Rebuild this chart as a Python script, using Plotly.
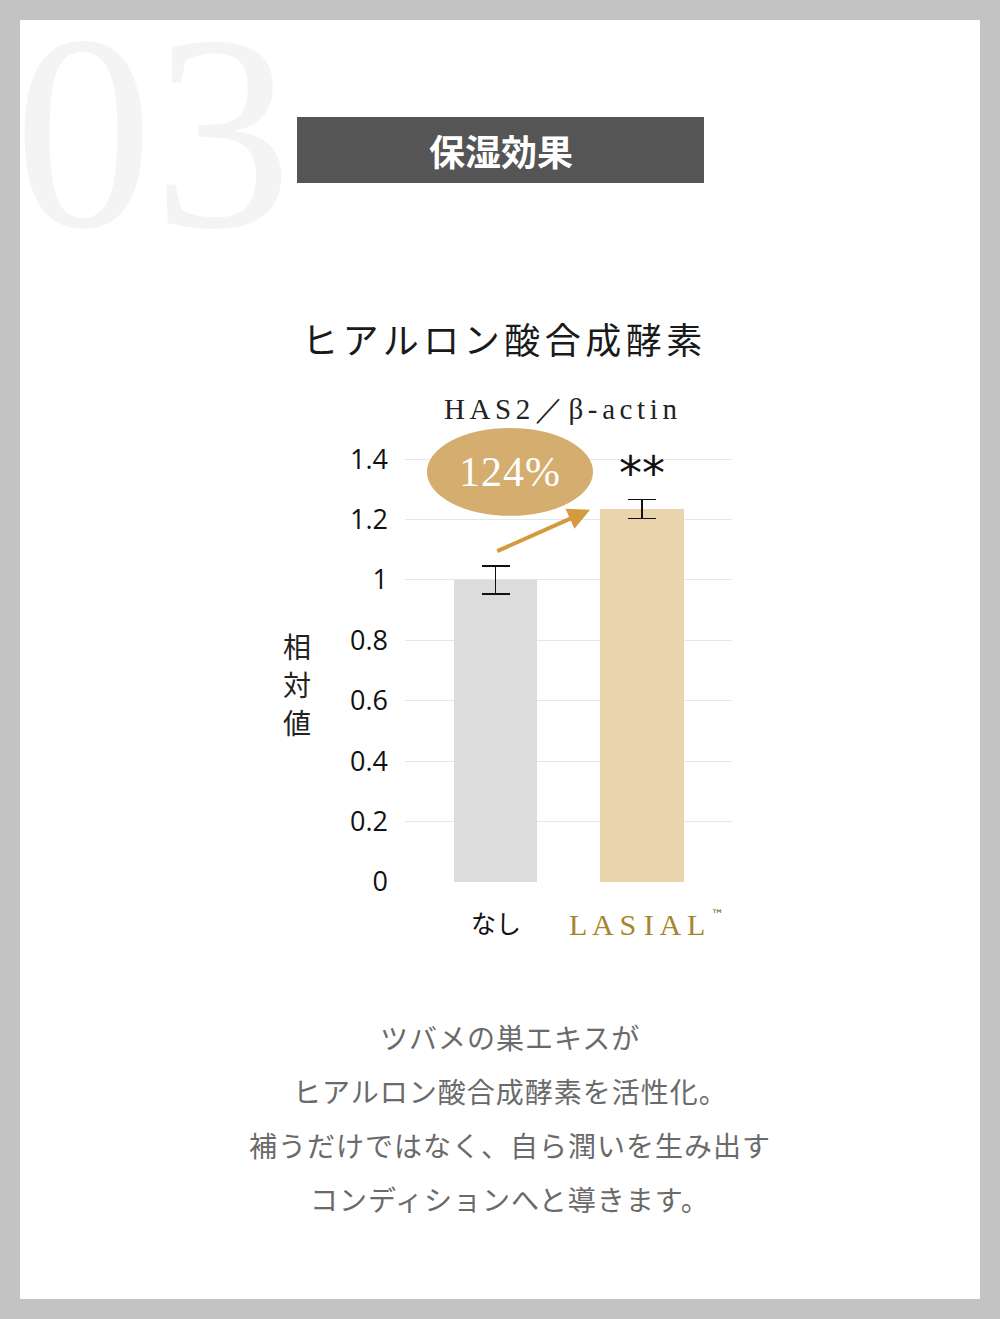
import plotly.graph_objects as go

# ---------------- data ----------------
categories = ["なし", "LASIAL"]
category_labels = ["なし", "L A S I A L"]
trademark = "™"
values = [1.0, 1.235]
errors = [0.046, 0.031]
ytick_vals = [0, 0.2, 0.4, 0.6, 0.8, 1.0, 1.2, 1.4]
ytick_text = ["0", "0.2", "0.4", "0.6", "0.8", "1", "1.2", "1.4"]
increase_label = "124%"
significance = "**"
section_number = "03"
section_title = "保湿効果"
chart_title = "ヒアルロン酸合成酵素"
chart_subtitle = "HAS2／β-actin"
y_title = "相対値"
caption_lines = [
    "ツバメの巣エキスが",
    "ヒアルロン酸合成酵素を活性化。",
    "補うだけではなく、自ら潤いを生み出す",
    "コンディションへと導きます。",
]

W, H = 1000, 1319


def px(x, y):
    return x / W, 1 - y / H


SANS = "Noto Sans CJK JP, Noto Sans, sans-serif"
SERIF = "Liberation Serif, DejaVu Serif, serif"
NUM = "Open Sans, Noto Sans, sans-serif"

bar_colors = ["#dcdcdc", "#e9d4ad"]

fig = go.Figure()
fig.add_trace(go.Bar(
    x=[0, 1], y=values, width=0.57,
    marker=dict(color=bar_colors, line=dict(width=0)),
    error_y=dict(type="data", array=errors, visible=True,
                 color="#111111", thickness=1.5, width=14),
    hoverinfo="skip",
))

# y domain: 0 at 882px, 1 unit = 302px; top of range 1.6
y0_px, unit_px = 882, 302.1
ymax = 1.6
dom_bottom = 1 - y0_px / H
dom_top = 1 - (y0_px - ymax * unit_px) / H

fig.update_layout(
    width=W, height=H,
    margin=dict(l=0, r=0, t=0, b=0, pad=0, autoexpand=False),
    paper_bgcolor="#c3c3c3",
    plot_bgcolor="rgba(0,0,0,0)",
    showlegend=False,
    bargap=0,
    xaxis=dict(domain=[405 / W, 732 / W], range=[-0.62, 1.615],
               showticklabels=False, showgrid=False, zeroline=False,
               showline=False, fixedrange=True, automargin=False),
    yaxis=dict(domain=[dom_bottom, dom_top], range=[0, ymax],
               tickvals=ytick_vals, ticktext=ytick_text,
               showgrid=True, gridcolor="#e6e6e6", gridwidth=1,
               zeroline=False, showline=False, ticks="",
               ticklabelstandoff=16, automargin=False,
               tickfont=dict(family=NUM, size=27, color="#111111")),
)

shapes = []
# white panel
x0, y0 = px(20, 20)
x1, y1 = px(980, 1299)
shapes.append(dict(type="rect", xref="paper", yref="paper", x0=x0, y0=y1, x1=x1, y1=y0,
                   fillcolor="#ffffff", line=dict(width=0), layer="below"))
# title box
bx0, by0 = px(297, 117)
bx1, by1 = px(704, 183)
shapes.append(dict(type="rect", xref="paper", yref="paper", x0=bx0, y0=by1, x1=bx1, y1=by0,
                   fillcolor="#555555", line=dict(width=0), layer="below"))
# ellipse badge (data coords)
shapes.append(dict(type="circle", xref="x", yref="y", x0=-0.47, x1=0.665, y0=1.212, y1=1.503,
                   fillcolor="#d4ad6f", line=dict(width=0), layer="above"))
fig.update_layout(shapes=shapes)

ann = []
# watermark 03
wx, wy = px(12, 132)
ann.append(dict(text=section_number, xref="paper", yref="paper", x=wx, y=wy,
                xanchor="left", yanchor="middle", showarrow=False,
                font=dict(family=SERIF, size=278, color="#f4f4f4")))
# section title
tx, ty = px(501, 150)
ann.append(dict(text="<b>" + section_title + "</b>", xref="paper", yref="paper", x=tx, y=ty,
                xanchor="center", yanchor="middle", showarrow=False,
                font=dict(family=SANS, size=36, color="#ffffff")))
# chart title
cx, cy = px(504, 338)
ann.append(dict(text="<span style='letter-spacing:4.5px'>" + chart_title + "</span>",
                xref="paper", yref="paper", x=cx, y=cy,
                xanchor="center", yanchor="middle", showarrow=False,
                font=dict(family=SANS, size=36, color="#1a1a1a")))
# subtitle
sx, sy = px(562, 409)
ann.append(dict(text="<span style='letter-spacing:4.6px'>" + chart_subtitle + "</span>",
                xref="paper", yref="paper", x=sx, y=sy,
                xanchor="center", yanchor="middle", showarrow=False,
                font=dict(family=SERIF, size=29, color="#222222")))
# y title (vertical stack, one character per line)
for i, ch in enumerate(y_title):
    yx, yy = px(297, 646 + i * 38)
    ann.append(dict(text=ch, xref="paper", yref="paper", x=yx, y=yy,
                    xanchor="center", yanchor="middle", showarrow=False,
                    font=dict(family=SANS, size=28, color="#222222")))
# x category labels
ann.append(dict(text=category_labels[0], xref="x", yref="paper", x=0, y=1 - 922 / H,
                xanchor="center", yanchor="middle", showarrow=False,
                font=dict(family=SANS, size=25, color="#111111")))
ann.append(dict(text=category_labels[1], xref="x", yref="paper", x=1, y=1 - 924 / H,
                xanchor="center", yanchor="middle", xshift=-5, showarrow=False,
                font=dict(family=SERIF, size=30, color="#a8842c")))
ann.append(dict(text=trademark, xref="x", yref="paper", x=1, y=1 - 914 / H,
                xanchor="center", yanchor="middle", xshift=75, showarrow=False,
                font=dict(family="DejaVu Sans, sans-serif", size=13, color="#6b5420")))
# badge text
ann.append(dict(text="<span style='letter-spacing:1px'>" + increase_label + "</span>",
                xref="x", yref="y", x=0.0975, y=1.358,
                xanchor="center", yanchor="middle", showarrow=False,
                font=dict(family=SERIF, size=42, color="#ffffff")))
# arrow from control bar to LASIAL bar
ann.append(dict(text="", xref="x", yref="y", x=0.645, y=1.232,
                axref="x", ayref="y", ax=0.0, ay=1.093,
                showarrow=True, arrowhead=2, arrowsize=1.1, arrowwidth=4,
                arrowcolor="#d39a3e", standoff=0))
# significance
ann.append(dict(text=significance, xref="x", yref="y", x=1, y=values[1] + errors[1],
                xanchor="center", yanchor="bottom", yshift=-2, showarrow=False,
                font=dict(family="DejaVu Sans, sans-serif", size=46, color="#111111")))
# caption lines
for i, line in enumerate(caption_lines):
    lx, ly = px(510, 1037 + i * 54)
    ann.append(dict(text="<span style='letter-spacing:1px'>" + line + "</span>",
                    xref="paper", yref="paper", x=lx, y=ly,
                    xanchor="center", yanchor="middle", showarrow=False,
                    font=dict(family=SANS, size=28, color="#6a6a6a")))

fig.update_layout(annotations=ann)
fig.write_html("out.html")
